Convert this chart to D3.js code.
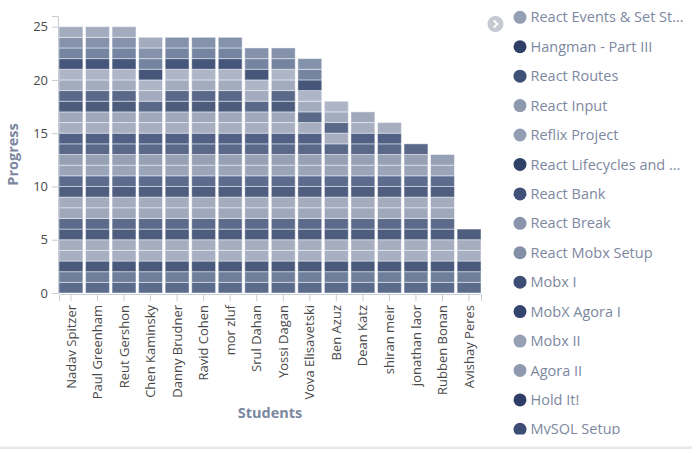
<!DOCTYPE html>
<html>
<head>
<meta charset="utf-8">
<script src="https://cdn.jsdelivr.net/npm/d3@7"></script>
<style>
  body { margin: 0; background: #fff; font-family: "Open Sans", sans-serif; }
</style>
</head>
<body>
<div id="chart"></div>
<script>
var students = ["Nadav Spitzer", "Paul Greenham", "Reut Gershon", "Chen Kaminsky",
  "Danny Brudner", "Ravid Cohen", "mor zluf", "Srul Dahan", "Yossi Dagan",
  "Vova Elisavetski", "Ben Azuz", "Dean Katz", "shiran meir", "jonathan laor",
  "Rubben Bonan", "Avishay Peres"];

// stack order, bottom to top (the legend is scrolled down by 4 rows)
var exercises = ["Exercise 1", "Exercise 2", "Exercise 3", "Exercise 4",
  "React Events & Set St...", "Hangman - Part III", "React Routes", "React Input",
  "Reflix Project", "React Lifecycles and ...", "React Bank", "React Break",
  "React Mobx Setup", "Mobx I", "MobX Agora I", "Mobx II", "Agora II", "Hold It!",
  "MySQL Setup", "Exercise 20", "Exercise 21", "Exercise 22", "Exercise 23",
  "Exercise 24", "Exercise 25"];

var exerciseColors = ["#3d5178", "#56688a", "#2a3d65", "#97a2b7",
  "#959fb4", "#2f3f66", "#3f5077", "#8e99af", "#949eb3", "#304168", "#41517a",
  "#8a95ad", "#8490a8", "#3d4e75", "#33446e", "#96a0b5", "#8f9ab0", "#2e3e66",
  "#3d4e75", "#939db3", "#9fa8bc", "#263864", "#5d7090", "#707f9c", "#929db3"];

// exercises (1-based, stack order) each student has not done yet
var missing = [
  [], [], [], [18], [25], [25], [25], [18, 25], [22, 25], [17, 18, 25],
  [15, 17, 18, 22, 23, 24, 25],
  [18, 19, 20, 21, 22, 23, 24, 25],
  [17, 18, 19, 20, 21, 22, 23, 24, 25],
  [15, 16, 17, 18, 19, 20, 21, 22, 23, 24, 25],
  [14, 15, 16, 17, 18, 19, 20, 21, 22, 23, 24, 25],
  [7, 8, 9, 10, 11, 12, 13, 14, 15, 16, 17, 18, 19, 20, 21, 22, 23, 24, 25]
];

var yTicks = [0, 5, 10, 15, 20, 25];

// rows of the legend that are scrolled into view
var legendFirst = 4, legendLast = 18;

var width = 692, height = 449;
var margin = {top: 16, right: 211, bottom: 156, left: 59};

var svg = d3.select("#chart")
  .append("svg")
    .attr("width", width)
    .attr("height", height);

var x = d3.scaleBand()
  .domain(students)
  .range([margin.left, width - margin.right])
  .paddingInner(0.1)
  .paddingOuter(0);

var y = d3.scaleLinear()
  .domain([0, 26])
  .range([height - margin.bottom, margin.top]);

var rows = students.map(function (s, i) {
  var row = {student: s};
  exercises.forEach(function (e, j) {
    row[e] = missing[i].indexOf(j + 1) < 0 ? 1 : 0;
  });
  return row;
});

var series = d3.stack().keys(exercises)(rows);

svg.append("g")
  .selectAll("g")
  .data(series)
  .join("g")
    .attr("fill", function (d, i) { return exerciseColors[i]; })
    .attr("fill-opacity", 0.85)
  .selectAll("rect")
  .data(function (d) { return d.filter(function (p) { return p[1] > p[0]; }); })
  .join("rect")
    .attr("x", function (p) { return x(p.data.student); })
    .attr("y", function (p) { return y(p[1]); })
    .attr("width", x.bandwidth())
    .attr("height", function (p) { return y(p[0]) - y(p[1]); })
    .attr("stroke", "#fff")
    .attr("stroke-opacity", 0.45)
    .attr("stroke-width", 1);

// axes
var xAxis = svg.append("g")
  .attr("transform", "translate(0," + (height - margin.bottom + 1) + ")")
  .call(d3.axisBottom(x).tickSize(7).tickSizeOuter(7));
xAxis.selectAll("text")
  .attr("transform", "rotate(-90)")
  .attr("x", -11)
  .attr("y", 0)
  .attr("dy", "0.35em")
  .style("text-anchor", "end");

var yAxis = svg.append("g")
  .attr("transform", "translate(" + (margin.left - 1) + ",0)")
  .call(d3.axisLeft(y).tickValues(yTicks).tickSize(6).tickPadding(4));

svg.selectAll(".domain, .tick line").attr("stroke", "#c8ccd3");
svg.selectAll(".tick text")
  .attr("fill", "#4a4a4a")
  .style("font-family", "Open Sans")
  .style("font-size", "13px");

svg.append("text")
  .attr("transform", "translate(18," + ((margin.top + height - margin.bottom) / 2) + ") rotate(-90)")
  .attr("text-anchor", "middle")
  .style("font-size", "14.5px")
  .style("font-weight", "bold")
  .attr("fill", "#7b879f")
  .text("Progress");

svg.append("text")
  .attr("x", (margin.left + width - margin.right) / 2)
  .attr("y", 418)
  .attr("text-anchor", "middle")
  .style("font-size", "14.5px")
  .style("font-weight", "bold")
  .attr("fill", "#7b879f")
  .text("Students");

// legend, scrolled list clipped to its box
svg.append("clipPath")
  .attr("id", "legendClip")
  .append("rect")
    .attr("x", 500).attr("y", 2)
    .attr("width", 192).attr("height", 432.5);

var shown = d3.range(legendFirst, legendLast + 1);

var legend = svg.append("g")
  .attr("clip-path", "url(#legendClip)")
  .selectAll("g")
  .data(shown)
  .join("g")
    .attr("transform", function (i) { return "translate(0," + (17.3 + (i - legendFirst) * 29.43) + ")"; });

legend.append("circle")
  .attr("cx", 520)
  .attr("r", 6.5)
  .attr("fill", function (i) { return exerciseColors[i]; });

legend.append("text")
  .attr("x", 530.5)
  .attr("dy", "0.35em")
  .style("font-size", "14.5px")
  .attr("fill", "#7d889f")
  .text(function (i) { return exercises[i]; });

var pager = svg.append("g").attr("transform", "translate(495.5,24)");
pager.append("circle").attr("r", 8).attr("fill", "#c4c9d2");
pager.append("path")
  .attr("d", "M-1.8,-3.6L1.8,0L-1.8,3.6")
  .attr("fill", "none")
  .attr("stroke", "#fff")
  .attr("stroke-width", 2);

svg.append("rect")
  .attr("x", 0).attr("y", 446.5)
  .attr("width", width).attr("height", 2.5)
  .attr("fill", "#e4e7ec");
</script>
</body>
</html>
